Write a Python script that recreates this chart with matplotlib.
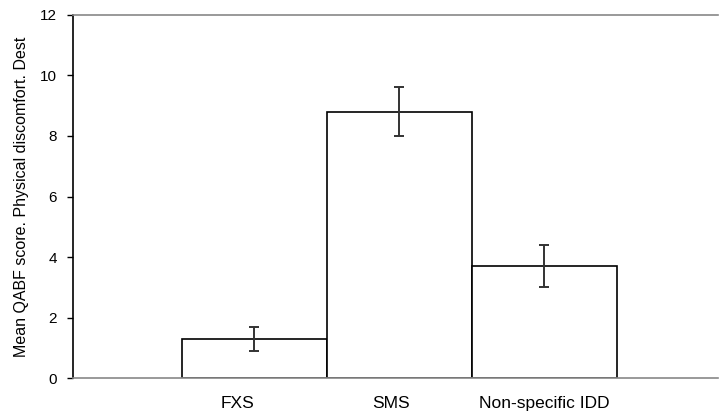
import matplotlib.pyplot as plt
import matplotlib.transforms as mtransforms
import numpy as np

# ---------------- DATA ----------------
categories = ["FXS", "SMS", "Non-specific IDD"]
means = [1.3, 8.8, 3.7]
errors = [0.4, 0.8, 0.7]
y_ticks = [0, 2, 4, 6, 8, 10, 12]
y_label = "Mean QABF score. Physical discomfort. Dest"
# --------------------------------------

plt.rcParams['font.family'] = ['Liberation Sans', 'DejaVu Sans']

fig = plt.figure(figsize=(7.2, 4.12), dpi=100)
ax = fig.add_axes([0.1007, 0.0818, 0.8963, 0.8825])

x = np.arange(len(categories))
ax.bar(x, means, width=1.0, color="white", edgecolor="black", linewidth=1.2, zorder=2)
ax.errorbar(x, means, yerr=errors, fmt="none", ecolor="#333333",
            elinewidth=1.4, capsize=3.6, capthick=1.4, zorder=3)

ax.set_xlim(-1.254, 3.196)
ax.set_ylim(0, 12)
ax.set_yticks(y_ticks)
ax.set_xticks(x)
ax.set_xticklabels(categories)

ax.spines["right"].set_visible(False)
ax.spines["left"].set_color("black")
ax.spines["left"].set_linewidth(1.2)
for s in ("top", "bottom"):
    ax.spines[s].set_color("#888888")
    ax.spines[s].set_linewidth(1.2)

ax.tick_params(axis="y", length=4.3, width=1.0, pad=7, labelsize=11)
ax.tick_params(axis="x", length=0, pad=12.5, labelsize=12.5)
ax.set_ylabel(y_label, fontsize=11.5, labelpad=8)

# category labels in the original sit a bit left of the bar centres
shifts_px = [-16.5, -8.5, 0]
for lab, dx in zip(ax.get_xticklabels(), shifts_px):
    off = mtransforms.ScaledTranslation(dx / 100, 0, fig.dpi_scale_trans)
    lab.set_transform(lab.get_transform() + off)

fig.savefig("out.png", dpi=100)
